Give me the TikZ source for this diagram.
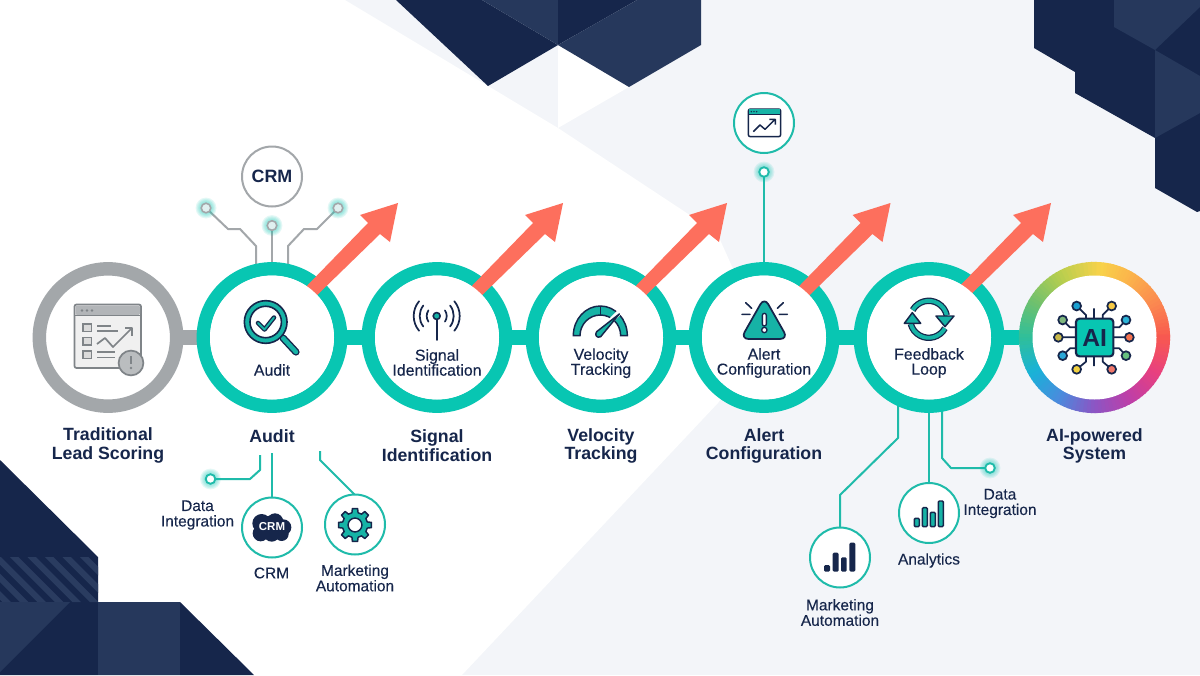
\documentclass[tikz,border=0pt]{standalone}
\usepackage{fontspec}
\setmainfont{Liberation Sans}
\newfontfamily\medf[FakeBold=0.25]{Liberation Sans}
\newfontfamily\subf[FakeBold=0.15]{Liberation Sans}
\usetikzlibrary{calc}
\definecolor{navy}{HTML}{16264B}
\definecolor{navyl}{HTML}{26385C}
\definecolor{stripe}{HTML}{2A3C60}
\definecolor{pale}{HTML}{F3F5F9}
\definecolor{tealr}{HTML}{08C6B2}
\definecolor{teall}{HTML}{1FBBAA}
\definecolor{teali}{HTML}{16B3A6}
\definecolor{greyr}{HTML}{A3A7AA}
\definecolor{greyd}{HTML}{7F8488}
\definecolor{coral}{HTML}{FD6F5D}
\definecolor{gA}{HTML}{F8594F}\definecolor{gB}{HTML}{FB8950}\definecolor{gC}{HTML}{FBB44B}
\definecolor{gD}{HTML}{F8D24A}\definecolor{gE}{HTML}{B6CE4E}\definecolor{gF}{HTML}{6FC06E}
\definecolor{gG}{HTML}{2FBF9A}\definecolor{gH}{HTML}{19B2D8}\definecolor{gI}{HTML}{4A8BDD}
\definecolor{gJ}{HTML}{8C55C4}\definecolor{gK}{HTML}{BE3FA8}\definecolor{gL}{HTML}{E8407F}
\pgfdeclarelayer{bgl}\pgfdeclarelayer{lnk}\pgfsetlayers{bgl,lnk,main}
\tikzset{
  x=0.75pt,y=-0.75pt,
  ringt/.style={circle,draw=tealr,line width=10.1pt,minimum size=103pt,inner sep=0pt,outer sep=0pt},
  ringg/.style={ringt,draw=greyr},
  ringn/.style={circle,minimum size=113pt,inner sep=0pt,outer sep=0pt},
  bubt/.style={circle,draw=teall,line width=1.5pt,fill=white,minimum size=45pt,inner sep=0pt,outer sep=0pt},
  bubg/.style={bubt,draw=greyr},
  linkt/.style={line width=11.25pt,draw=tealr},
  linkg/.style={line width=11.25pt,draw=greyr},
  wiret/.style={line width=1.5pt,draw=teall,line join=round},
  wireg/.style={line width=1.5pt,draw=greyr,line join=round},
  dott/.style={circle,draw=teall,line width=1.4pt,fill=white,minimum size=7.2pt,inner sep=0pt,outer sep=0pt},
  dotg/.style={circle,draw=greyr,line width=1.2pt,fill=teal!12,minimum size=7.2pt,inner sep=0pt,outer sep=0pt},
  title/.style={align=center,text=navy,inner sep=0pt,font=\fontsize{13.3}{14}\selectfont\bfseries},
  inlab/.style={align=center,text=navy,inner sep=0pt,font=\fontsize{11.9}{11.25}\selectfont\medf},
  sublab/.style={align=center,text=navy,inner sep=0pt,font=\fontsize{11.6}{11.6}\selectfont\subf},
  ico/.style={line width=1.1pt,draw=navy,line join=round,line cap=round},
  zoomed/.style={x=0.25pt,y=-0.25pt},
}
\newcommand{\glowat}[2]{\foreach \gr in {7.8,6.9,6,5.1,4.2}{\fill[tealr,opacity=0.11] (#1,#2) circle (\gr pt);}}
\begin{document}
\begin{tikzpicture}
\useasboundingbox (0,0) rectangle (1200,675);
\begin{pgfonlayer}{bgl}
\fill[pale] (0,0) rectangle (1200,675);
\fill[white] (0,0) -- (345,0) -- (558,128) -- (717,233) -- (730,262) -- (764,337) -- (718,403) -- (462,675) -- (0,675) -- cycle;
\fill[white] (558,45) -- (629,87) -- (558,128) -- cycle;
% top centre facets
\fill[navy] (396,0) -- (488,86) -- (558,45) -- (482,0) -- cycle;
\fill[navyl] (482,0) -- (558,45) -- (558,0) -- cycle;
\fill[navy] (558,0) -- (558,45) -- (637,0) -- cycle;
\fill[navyl] (637,0) -- (558,45) -- (629,87) -- (701,45) -- (701,0) -- cycle;
% top right facets
\fill[navy] (1034,0) -- (1034,48) -- (1075,72) -- (1075,93) -- (1155,138) -- (1155,188) -- (1197,212) -- (1200,211) -- (1200,0) -- cycle;
\fill[navyl] (1114,0) -- (1114,27) -- (1155,50) -- (1200,7) -- (1200,0) -- cycle;
\fill[navyl] (1155,50) -- (1200,76) -- (1200,113) -- (1155,138) -- cycle;
% bottom left facets
\fill[navy] (0,460) -- (98,557) -- (98,602) -- (180,602) -- (254,675) -- (0,675) -- cycle;
\fill[navyl] (0,602) -- (70,602) -- (0,672) -- cycle;
\fill[navyl] (98,602) -- (180,602) -- (180,675) -- (98,675) -- cycle;
\begin{scope}
\clip (0,557) rectangle (98,602);
\foreach \sx in {-60,-42.5,...,85}{\fill[stripe] (\sx,557) -- (\sx+8.5,557) -- (\sx+53.5,602) -- (\sx+45,602) -- cycle;}
\end{scope}
\end{pgfonlayer}

% rings
\node[ringg] (n0) at (108,337.5) {};
\node[ringt] (n1) at (272,337.5) {};
\node[ringt] (n2) at (437,337.5) {};
\node[ringt] (n3) at (601,337.5) {};
\node[ringt] (n4) at (764,337.5) {};
\node[ringt] (n5) at (929,337.5) {};
\node[ringn] (n6) at (1094.5,337.5) {};

% rainbow ring
\foreach \aa/\ab/\ca/\cb in {0/30/gA/gB,30/60/gB/gC,60/85/gC/gD,85/120/gD/gE,120/150/gE/gF,150/180/gF/gG,180/210/gG/gH,210/240/gH/gI,240/270/gI/gJ,270/300/gJ/gK,300/330/gK/gL,330/361/gL/gA}{
  \foreach \t in {0,...,9}{
    \pgfmathsetmacro\pc{\t*10+5}
    \colorlet{segc}{\cb!\pc!\ca}
    \pgfmathsetmacro\ua{\aa+(\ab-\aa)*\t/10}
    \pgfmathsetmacro\ub{\aa+(\ab-\aa)*(\t+1.25)/10}
    \fill[segc] (n6.center) -- ({1094.5+75.6*cos(\ua)},{337.5-75.6*sin(\ua)}) -- ({1094.5+75.6*cos(\ub)},{337.5-75.6*sin(\ub)}) -- cycle;
  }
}
\fill[white] (n6.center) circle (46.5pt);

% connectors between rings
\begin{pgfonlayer}{lnk}
\draw[linkg] (n0) -- (n1);
\draw[linkt] (n1) -- (n2);
\draw[linkt] (n2) -- (n3);
\draw[linkt] (n3) -- (n4);
\draw[linkt] (n4) -- (n5);
\draw[linkt] (n5) -- (n6);
\end{pgfonlayer}

% coral arrows, cut by the ring's white interior
\foreach \n/\dx in {n1/0,n2/0,n3/0,n4/0.5,n5/-4}{
  \begin{scope}[shift={(\n)},xshift=\dx*0.75pt]
  \fill[coral] (27,-43.5) -- (96,-114.5) -- (88,-122.5) -- (126,-134.5) -- (118,-95.5) -- (108,-103.5) -- (37,-34.5) -- cycle;
  \end{scope}
  \fill[white] (\n.center) circle (46.5pt);
}

% ---------- Traditional icon
\begin{scope}
\draw[line width=1.3pt,draw=greyd,fill=black!6,rounded corners=1.5pt] (74.5,304.5) rectangle (141,368);
\fill[greyd!60,rounded corners=1pt] (75.5,305.5) rectangle (140,315);
\draw[line width=1pt,greyd] (74.5,315.5) -- (141,315.5);
\foreach \dx in {82,87,92}{\fill[greyd] (\dx,310.5) circle (1pt);}
\foreach \yy in {324,337.5,351}{\draw[line width=1.2pt,draw=greyd,fill=black!14] (83,\yy) rectangle (91.5,\yy+7.5);}
\draw[line width=1.2pt,greyd] (97,326) -- (111,326) (97,331) -- (118,331) (97,352) -- (115,352) (97,357.5) -- (115,357.5);
\draw[line width=1.3pt,greyd,line join=round] (97,344) -- (105,338) -- (113,347) -- (132,328);
\draw[line width=1.3pt,greyd,line join=round] (125,328) -- (132,328) -- (132,336);
\draw[line width=1.3pt,draw=greyd,fill=greyr!75] (131,363) circle (9.3pt);
\draw[line width=1.2pt,greyd] (131,356) -- (131,364);
\fill[greyd] (131,368) circle (1pt);
\end{scope}

% ---------- Audit icon (magnifier)
\draw[navy,line width=5.4pt,line cap=round] (283,338) -- (296,352);
\draw[teali,line width=3.3pt,line cap=round] (283,338) -- (296,352);
\draw[line width=1.2pt,draw=navy,fill=teali] (265.7,322) circle (16pt);
\draw[line width=1.2pt,draw=navy,fill=white] (265.7,322) circle (11.8pt);
\draw[navy,line width=3.4pt,line cap=round,line join=round] (258,323) -- (264.5,329.5) -- (274,317.5);
\draw[teali,line width=1.4pt,line cap=round,line join=round] (258,323) -- (264.5,329.5) -- (274,317.5);

% ---------- Signal icon
\begin{scope}[ico]
\draw[line width=1.3pt] (436.7,320) -- (436.7,340);
\foreach \r/\ang in {10/34,17/38,23/40}{
  \draw[line width=1.3pt] (436.7,316) ++(-\ang:\r) arc (-\ang:\ang:\r);
  \draw[line width=1.3pt] (436.7,316) ++(180-\ang:\r) arc (180-\ang:180+\ang:\r);
}
\draw[line width=1.2pt,fill=teali] (436.7,316) circle (2.6pt);
\end{scope}

% ---------- Velocity icon
\begin{scope}[shift={(340,190)},zoomed]
\draw[line width=1.1pt,draw=navy,fill=teali] (700,437) arc (180:360:81 and 89) -- (842,437) arc (360:180:61 and 62) -- cycle;
\draw[line width=1.1pt,navy] (781,348) -- (781,375);
\draw[white,line width=4pt] (760,445) -- (845,360);
\draw[line width=1.1pt,draw=navy,fill=teali,line join=round] (838,372) -- (782,440) .. controls (772,446) and (762,435) .. (770,425) -- cycle;
\end{scope}

% ---------- Alert icon
\begin{scope}[shift={(680,80)},zoomed]
\draw[line width=1.3pt,draw=navy,fill=teali,rounded corners=6pt,line join=round] (253,652) -- (324,777) -- (182,777) -- cycle;
\draw[line width=1pt,draw=navy,fill=white,rounded corners=1.5pt] (247,700) rectangle (259,738);
\draw[line width=1pt,draw=navy,fill=white] (253,750) circle (2pt);
\draw[line width=1.2pt,navy,line cap=round] (197,668) -- (215,685) (186,703) -- (210,703) (310,668) -- (292,685) (298,703) -- (322,703);
\end{scope}

% ---------- Feedback icon
\begin{scope}[shift={(928.7,319.3)}]
\foreach \col/\w in {navy/4.8pt,teali/2.9pt}{
  \draw[\col,line width=\w] (210:18.5) arc (210:348:18.5);
  \draw[\col,line width=\w] (29:18.5) arc (29:166:18.5);
}
\end{scope}
\begin{scope}[shift={(680,80)},zoomed]
\draw[line width=1.1pt,draw=navy,fill=teali,line join=round] (768,708) -- (822,708) -- (795,740) -- cycle;
\draw[line width=1.1pt,draw=navy,fill=teali,line join=round] (673,730) -- (722,730) -- (697,698) -- cycle;
\end{scope}

% ---------- AI icon
\begin{scope}[shift={(950,250)},zoomed]
\draw[line width=1.3pt,navy,line join=round]
 (380,168) -- (408,195) -- (408,205) (485,168) -- (458,195) -- (458,205)
 (338,210) -- (360,232) -- (378,232) (528,210) -- (508,232) -- (490,232)
 (325,262) -- (378,262) (538,262) -- (490,262)
 (338,317) -- (360,295) -- (378,295) (528,317) -- (508,295) -- (490,295)
 (380,358) -- (408,335) -- (408,320) (485,358) -- (458,335) -- (458,320)
 (432,175) -- (432,205) (432,320) -- (432,348);
\foreach \px/\py/\pcol in {380/168/1A9FD0,485/168/F6C945,338/210/7FB77E,528/210/2CB4D8,325/262/C8B84A,538/262/F5734F,338/317/2AA7D8,528/317/66BF7F,380/358/F0D040,485/358/F0776A}{
  \definecolor{pcc}{HTML}{\pcol}
  \draw[line width=1.3pt,draw=navy,fill=pcc] (\px,\py) circle (3.3pt);
}
\draw[line width=1.6pt,draw=navy,fill=tealr,rounded corners=2.5pt] (378,206) rectangle (490,319);
\node[text=navy,inner sep=0pt,font=\fontsize{18.5}{18.5}\selectfont\bfseries] (aichip) at (434,263) {AI};
\end{scope}

% ---------- ring texts
\node[inlab] (i1) at (272,370) {Audit};
\node[inlab] (i2) at (437,362.5) {Signal\\Identification};
\node[inlab] (i3) at (601,363.2) {Velocity\\Tracking};
\node[inlab] (i4) at (764,363) {Alert\\Configuration};
\node[inlab] (i5) at (929,363) {Feedback\\Loop};

% ---------- titles
\node[title] (t0) at (108,445.6) {Traditional\\Lead Scoring};
\node[title] (t1) at (272,436) {Audit};
\node[title] (t2) at (437,445.4) {Signal\\Identification};
\node[title] (t3) at (601,446) {Velocity\\Tracking};
\node[title] (t4) at (764,446) {Alert\\Configuration};
\node[title] (t6) at (1094.5,446) {AI-powered\\System};

% ---------- top of Audit
\node[bubg] (b1) at (272,176.5) {\fontsize{13.4}{14}\selectfont\bfseries\color{navy}CRM};
\glowat{206}{208}\glowat{272}{225.5}\glowat{338}{208}
\node[dotg] (d1) at (206,208) {};
\node[dotg] (d2) at (272,225.5) {};
\node[dotg] (d3) at (338,208) {};
\begin{pgfonlayer}{lnk}
\draw[wireg] (d1) -- (228,229) -- (240,229) -- (256,246) -- (256,246 |- n1.north);
\draw[wireg] (d2) -- (n1);
\draw[wireg] (d3) -- (317,229) -- (304,229) -- (288,246) -- (288,246 |- n1.north);
\end{pgfonlayer}

% ---------- top of Alert
\node[bubt] (b2) at (764,123) {};
\glowat{764}{172}
\node[dott] (d4) at (764,172) {};
\begin{pgfonlayer}{lnk}
\draw[wiret] (d4) -- (n4);
\end{pgfonlayer}
\begin{scope}[shift={(680,80)},zoomed]
\draw[line width=1.1pt,draw=navy,fill=white,rounded corners=1.5pt] (205,87) rectangle (302,170);
\fill[teali] (206,88) rectangle (301,102);
\draw[line width=1.1pt,navy] (205,103) -- (302,103);
\foreach \dx in {214,222,230}{\fill[navy] (\dx,95) circle (.6pt);}
\draw[line width=1.1pt,navy,line join=round] (220,155) -- (240,135) -- (255,148) -- (285,118) (268,118) -- (286,118) -- (286,134);
\end{scope}

% ---------- below Audit
\coordinate (a1) at (260,455);
\coordinate (a2) at (272,453);
\coordinate (a3) at (320,451);
\glowat{210.5}{479}
\node[dott] (d5) at (210.5,479) {};
\node[bubt] (b3) at (272,527.5) {};
\node[bubt] (b4) at (355,524.5) {};
\begin{pgfonlayer}{lnk}
\draw[wiret] (a1) -- (260,470) -- (250,479) -- (d5);
\draw[wiret] (a2) -- (b3);
\draw[wiret] (a3) -- (320,460) -- (355,495) -- (b4);
\end{pgfonlayer}
\begin{scope}[shift={(140,420)},zoomed]
\foreach \cx/\cy/\cr in {365/310/28,405/305/25,430/322/24,395/340/25,362/340/24,425/342/21,395/322/36}{\fill[navy] (\cx,\cy) circle (\cr*0.25pt);}
\node[text=white,inner sep=0pt,font=\fontsize{8.6}{9}\selectfont\bfseries] (crmc) at (396,321) {CRM};
\begin{scope}[shift={(645,315)}]
\draw[line width=1.1pt,draw=navy,fill=teali,line join=round]
  plot[samples at={-14,-9,9,14,31,36,54,59,76,81,99,104,121,126,144,149,166,171,189,194,211,216,234,239,256,261,279,284,301,306,324,329}]
  (\x:{abs(mod(\x+382.5,45)-22.5)<10 ? 50 : 38}) -- cycle;
\draw[line width=1.1pt,draw=navy,fill=white] (0,0) circle (5.2pt);
\end{scope}
\end{scope}
\node[sublab] (l1) at (197.5,515) {Data\\Integration};
\node[sublab] (l2) at (271.5,573) {CRM};
\node[sublab] (l3) at (355,578) {Marketing\\Automation};

% ---------- below Feedback
\glowat{990}{468}
\node[dott] (d6) at (990,468) {};
\node[bubt] (b5) at (840,557.5) {};
\node[bubt] (b6) at (929,513) {};
\begin{pgfonlayer}{lnk}
\draw[wiret] (898,408 |- n5.south) -- (898,438) -- (840,495) -- (b5);
\draw[wiret] (n5) -- (b6);
\draw[wiret] (942,408 |- n5.south) -- (942,458) -- (951,468) -- (d6);
\end{pgfonlayer}
\begin{scope}[shift={(780,400)},zoomed]
\foreach \xa/\xb/\ya in {403/418/355,427/442/323,451/466/337,475/490/303}{
  \draw[line width=1.1pt,draw=navy,fill=teali,rounded corners=.8pt] (\xa,\ya) rectangle (\xb,380);
}
\foreach \xa/\xb/\ya in {132/150/495,158/176/458,183/200/472,208/226/428}{
  \fill[navy,rounded corners=1pt] (\xa,\ya) rectangle (\xb,515);
}
\end{scope}
\node[sublab] (l4) at (840,612.5) {Marketing\\Automation};
\node[sublab] (l5) at (929,560.5) {Analytics};
\node[sublab] (l6) at (1000,503.5) {Data\\Integration};
\end{tikzpicture}
\end{document}
